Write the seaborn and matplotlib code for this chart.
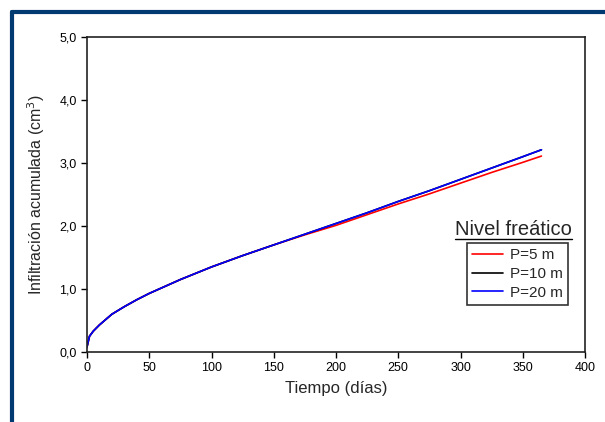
import numpy as np
import pandas as pd
import seaborn as sns
import matplotlib.pyplot as plt
from matplotlib.lines import Line2D

# tiempo (dias) y infiltracion acumulada
tiempo = [0, 2, 5, 10, 20, 30, 40, 50, 75, 100, 125, 150, 175, 200,
          225, 250, 275, 300, 325, 350, 365]
p5 = [0.08, 0.25, 0.33, 0.43, 0.60, 0.72, 0.83, 0.93, 1.15, 1.35, 1.53, 1.70,
      1.86, 2.01, 2.18, 2.35, 2.51, 2.68, 2.85, 3.01, 3.11]
p10 = [0.08, 0.25, 0.33, 0.43, 0.60, 0.72, 0.83, 0.93, 1.15, 1.35, 1.53, 1.70,
       1.87, 2.04, 2.21, 2.39, 2.56, 2.74, 2.92, 3.10, 3.21]
p20 = [0.08, 0.25, 0.33, 0.43, 0.60, 0.72, 0.83, 0.93, 1.15, 1.35, 1.53, 1.70,
       1.87, 2.04, 2.21, 2.39, 2.56, 2.74, 2.92, 3.10, 3.21]
series = ["P=5 m", "P=10 m", "P=20 m"]
colores = ["#ff0000", "#000000", "#0000ff"]
yticks = [0, 1, 2, 3, 4, 5]
ytick_labels = ["0,0", "1,0", "2,0", "3,0", "4,0", "5,0"]
xticks = [0, 50, 100, 150, 200, 250, 300, 350, 400]

df = pd.DataFrame({
    "tiempo": tiempo * 3,
    "inf": p5 + p10 + p20,
    "serie": [s for s in series for _ in tiempo],
})

sns.set_style("white")
plt.rcParams["font.family"] = ["Liberation Sans", "DejaVu Sans"]

fig = plt.figure(figsize=(6.05, 4.22), dpi=100)
ax = fig.add_axes([87 / 605, 1 - 352 / 422, 498 / 605, 315 / 422])

sns.lineplot(data=df, x="tiempo", y="inf", hue="serie", palette=colores,
             hue_order=series, linewidth=1.2, ax=ax, legend=False)

ax.set_xlim(0, 400)
ax.set_ylim(0, 5)
ax.set_xticks(xticks)
ax.set_xticklabels([str(v) for v in xticks])
ax.set_yticks(yticks)
ax.set_yticklabels(ytick_labels)
ax.tick_params(direction="out", length=4, width=1, colors="black",
               labelsize=9, left=True, bottom=True)
for sp in ax.spines.values():
    sp.set_color("#222222")
    sp.set_linewidth(1.2)

ax.set_xlabel("Tiempo (días)", fontsize=12, labelpad=5)
ax.set_ylabel("Infiltración acumulada (cm$^3$)", fontsize=11.5, labelpad=9)

handles = [Line2D([], [], color=c, lw=1.2) for c in colores]
leg = ax.legend(handles, series, loc="upper right",
                bbox_to_anchor=(0.966, 0.346), borderaxespad=0,
                fancybox=False, frameon=True, fontsize=11,
                handlelength=2.0, handletextpad=0.45, labelspacing=0.3,
                borderpad=0.35)
leg.get_frame().set_edgecolor("black")
leg.get_frame().set_linewidth(1.2)

# titulo de la leyenda subrayado
t = fig.text(572 / 605, 1 - 235 / 422, "Nivel freático", ha="right",
             va="baseline", fontsize=14.5)
fig.canvas.draw()
bb = t.get_window_extent()
uy = 1 - 238.5 / 422
fig.add_artist(Line2D([bb.x0 / 605, bb.x1 / 605], [uy, uy],
                      transform=fig.transFigure, color="black", lw=1))

# marco azul de la figura
azul = "#003a70"
fig.add_artist(Line2D([12 / 605, 1], [1 - 12 / 422, 1 - 12 / 422],
                      transform=fig.transFigure, color=azul, lw=3))
fig.add_artist(Line2D([12 / 605, 12 / 605], [0, 1 - 12 / 422],
                      transform=fig.transFigure, color=azul, lw=3))

fig.savefig("out.png", dpi=100)
